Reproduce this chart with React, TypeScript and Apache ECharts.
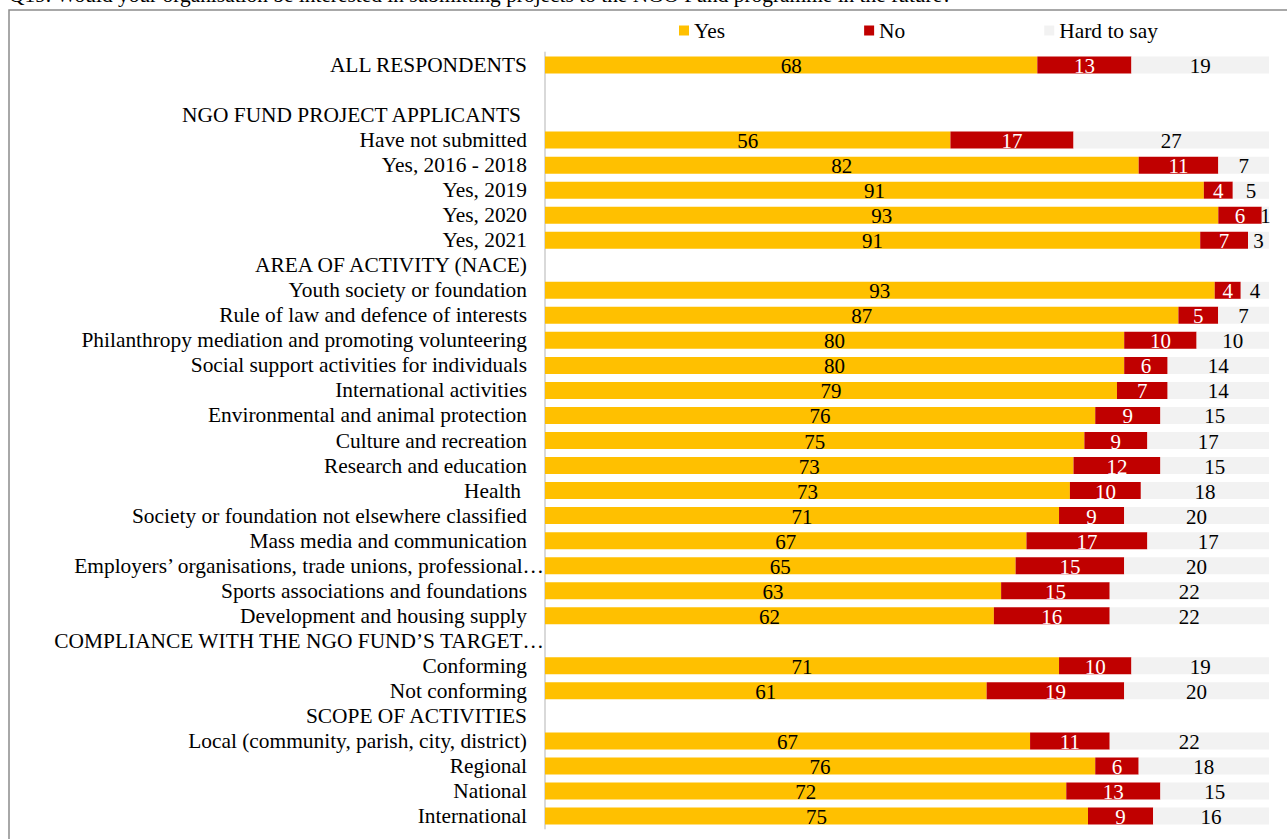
import React, { useEffect, useRef } from 'react';
import * as echarts from 'echarts';

const titleText =
  'Q19. Would your organisation be interested in submitting projects to the NGO Fund programme in the future?';

const seriesNames = ['Yes', 'No', 'Hard to say'];

const categories = [
  'ALL RESPONDENTS',
  '',
  'NGO FUND PROJECT APPLICANTS',
  'Have not submitted',
  'Yes, 2016 - 2018',
  'Yes, 2019',
  'Yes, 2020',
  'Yes, 2021',
  'AREA OF ACTIVITY (NACE)',
  'Youth society or foundation',
  'Rule of law and defence of interests',
  'Philanthropy mediation and promoting volunteering',
  'Social support activities for individuals',
  'International activities',
  'Environmental and animal protection',
  'Culture and recreation',
  'Research and education',
  'Health',
  'Society or foundation not elsewhere classified',
  'Mass media and communication',
  'Employers’ organisations, trade unions, professional…',
  'Sports associations and foundations',
  'Development and housing supply',
  'COMPLIANCE WITH THE NGO FUND’S TARGET…',
  'Conforming',
  'Not conforming',
  'SCOPE OF ACTIVITIES',
  'Local (community, parish, city, district)',
  'Regional',
  'National',
  'International',
];

// label style per category: n = normal, s = trailing space, t = truncated
const labelKinds = [
  'n', 'n', 's', 'n', 'n', 'n', 'n', 'n', 'n', 'n', 'n', 'n', 'n', 'n', 'n', 'n',
  'n', 's', 'n', 'n', 't', 'n', 'n', 't', 'n', 'n', 'n', 'n', 'n', 'n', 'n',
];

const yesValues = [
  68, null, null, 56, 82, 91, 93, 90.5, null, 92.5, 87.49, 80, 80, 79, 76, 74.5,
  73, 72.5, 71, 66.5, 65, 63, 62, null, 71, 61, null, 67, 76, 72, 75,
];
const noValues = [
  13, null, null, 17, 11, 4, 6, 6.6, null, 3.6, 5.49, 10, 6, 7, 9, 8.7,
  12, 9.8, 9, 16.7, 15, 15, 16, null, 10, 19, null, 11, 6, 13, 9,
];
const hardValues = [
  19, null, null, 27, 7, 5, 1, 2.9, null, 3.9, 7.02, 10, 14, 14, 15, 16.8,
  15, 17.7, 20, 16.8, 20, 22, 22, null, 19, 20, null, 22, 18, 15, 16,
];

const colors = ['#FFC000', '#C00000', '#F2F2F2'];
const labelColors = ['#000000', '#FFFFFF', '#000000'];

const FONT = "'Liberation Serif', 'Times New Roman', serif";
const LABEL_SIZE = 21.4;

export default function App() {
  const ref = useRef<HTMLDivElement>(null);

  useEffect(() => {
    if (!ref.current) return;
    const chart = echarts.init(ref.current, undefined, { renderer: 'svg' });
    const dataSets = [yesValues, noValues, hardValues];
    const option: any = {
      animation: false,
      backgroundColor: '#ffffff',
      textStyle: { fontFamily: FONT },
      graphic: [
        {
          type: 'rect',
          shape: { x: 9, y: 10, width: 1400, height: 1000 },
          style: { fill: 'none', stroke: '#8c8c8c', lineWidth: 1.5 },
          silent: true,
        },
        {
          type: 'text',
          x: 9,
          y: -5,
          style: {
            text: titleText,
            fontFamily: FONT,
            fontSize: LABEL_SIZE,
            fill: '#000',
            verticalAlign: 'middle',
            align: 'left',
          },
          silent: true,
        },
      ],
      legend: {
        left: 674,
        top: 15,
        itemWidth: 10,
        itemHeight: 10,
        itemGap: 139,
        icon: 'rect',
        data: seriesNames,
        textStyle: { fontFamily: FONT, fontSize: LABEL_SIZE, color: '#000' },
      },
      grid: { left: 545, right: 18, top: 52.5, bottom: 10.5, containLabel: false },
      xAxis: {
        type: 'value',
        min: 0,
        max: 100,
        show: false,
      },
      yAxis: {
        type: 'category',
        inverse: true,
        data: categories,
        axisTick: { show: false },
        axisLine: { show: true, lineStyle: { color: '#d9d9d9', width: 2 } },
        axisLabel: {
          interval: 0,
          margin: 0,
          fontFamily: FONT,
          fontSize: LABEL_SIZE,
          color: '#000',
          formatter: (value: string, index: number) =>
            value === '' ? '' : `{${labelKinds[index]}|${value}}`,
          rich: {
            n: { fontFamily: FONT, fontSize: LABEL_SIZE, color: '#000', padding: [0, 18, 0, 0] },
            s: { fontFamily: FONT, fontSize: LABEL_SIZE, color: '#000', padding: [0, 24, 0, 0] },
            t: { fontFamily: FONT, fontSize: LABEL_SIZE, color: '#000', padding: [0, 1, 0, 0] },
          },
        },
      },
      series: seriesNames.map((name, i) => ({
        name,
        type: 'bar',
        stack: 'total',
        barWidth: 17,
        itemStyle: { color: colors[i] },
        label: {
          show: true,
          position: 'inside',
          offset: [0, 1],
          fontFamily: FONT,
          fontSize: 21,
          color: labelColors[i],
          formatter: (p: any) =>
            p.value == null ? '' : String(Math.round(p.value)),
        },
        data: dataSets[i],
      })),
    };
    chart.setOption(option);
    return () => chart.dispose();
  }, []);

  return (
    <div
      ref={ref}
      style={{ position: 'absolute', left: 0, top: 0, width: 1287, height: 839 }}
    />
  );
}
